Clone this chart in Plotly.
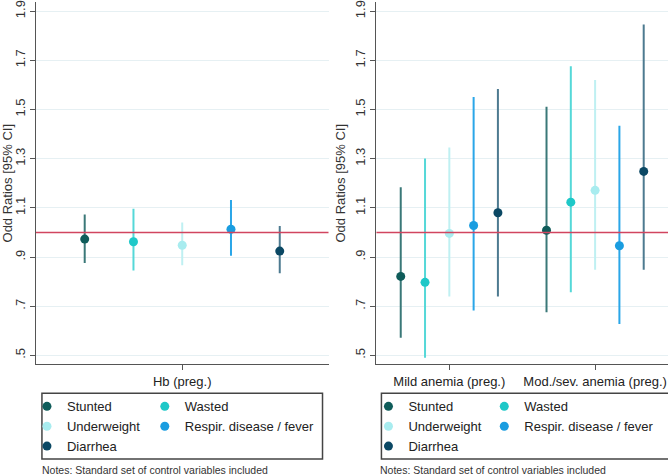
import plotly.graph_objects as go

W, H = 668, 476

series = ["Stunted", "Wasted", "Underweight", "Respir. disease / fever", "Diarrhea"]
point_colors = ["#0f5c5a", "#1ec8c8", "#a8ecef", "#1a9de0", "#0b4864"]
ci_colors = ["#3a7878", "#55d8d8", "#bff0f2", "#2aa6e8", "#4d7a90"]

left_categories = ["Hb (preg.)"]
right_categories = ["Mild anemia (preg.)", "Mod./sev. anemia (preg.)"]

# Odds ratios and 95% CI, per series (order as in `series`)
hb_or = [0.973, 0.962, 0.948, 1.013, 0.924]
hb_lo = [0.876, 0.845, 0.866, 0.905, 0.834]
hb_hi = [1.073, 1.096, 1.040, 1.132, 1.026]

mild_or = [0.821, 0.797, 0.996, 1.028, 1.080]
mild_lo = [0.572, 0.490, 0.739, 0.682, 0.739]
mild_hi = [1.184, 1.301, 1.345, 1.551, 1.583]

mod_or = [1.009, 1.123, 1.171, 0.946, 1.248]
mod_lo = [0.675, 0.757, 0.848, 0.628, 0.848]
mod_hi = [1.511, 1.676, 1.620, 1.434, 1.845]

ytick_vals = [0.5, 0.7, 0.9, 1.1, 1.3, 1.5, 1.7, 1.9]
ytick_text = [".5", ".7", ".9", "1.1", "1.3", "1.5", "1.7", "1.9"]
y_title = "Odd Ratios [95% CI]"
notes = "Notes: Standard set of control variables included"

FONT = "Arial, Liberation Sans, sans-serif"
AXIS_COLOR = "#555555"
GRID_COLOR = "#e6f0f3"
REF_COLOR = "#d1455f"

n = len(series)
offsets = [(i - (n - 1) / 2) / 6 for i in range(n)]

fig = go.Figure()

# legend assignment: column 1 -> Stunted, Underweight, Diarrhea; column 2 -> Wasted, Respir.
col_of = [0, 1, 0, 1, 0]

# left panel
for i, name in enumerate(series):
    fig.add_trace(go.Scatter(
        x=[1 + offsets[i]], y=[hb_or[i]], mode="markers", name=name,
        marker=dict(color=point_colors[i], size=9),
        error_y=dict(type="data", symmetric=False,
                     array=[hb_hi[i] - hb_or[i]], arrayminus=[hb_or[i] - hb_lo[i]],
                     color=ci_colors[i], thickness=2, width=0),
        xaxis="x", yaxis="y",
        legend="legend" if col_of[i] == 0 else "legend2",
        showlegend=True,
    ))

# right panel
for i, name in enumerate(series):
    xs = [k + 1 + offsets[i] for k in range(len(right_categories))]
    ors = [mild_or[i], mod_or[i]]
    los = [mild_lo[i], mod_lo[i]]
    his = [mild_hi[i], mod_hi[i]]
    fig.add_trace(go.Scatter(
        x=xs, y=ors, mode="markers", name=name,
        marker=dict(color=point_colors[i], size=9),
        error_y=dict(type="data", symmetric=False,
                     array=[h - o for h, o in zip(his, ors)],
                     arrayminus=[o - l for o, l in zip(ors, los)],
                     color=ci_colors[i], thickness=2, width=0),
        xaxis="x2", yaxis="y2",
        legend="legend3" if col_of[i] == 0 else "legend4",
        showlegend=True,
    ))

yrange = [0.463, 1.937]
ydomain = [1 - 364 / H, 1]

def yaxis_common(anchor):
    return dict(
        domain=ydomain, range=yrange, anchor=anchor,
        tickvals=ytick_vals, ticktext=ytick_text, tickangle=-90,
        ticks="outside", ticklen=5, tickcolor=AXIS_COLOR, tickwidth=1,
        showline=True, linecolor=AXIS_COLOR, linewidth=1,
        showgrid=True, gridcolor=GRID_COLOR, gridwidth=1, zeroline=False,
        ticklabeloverflow="allow",
        tickfont=dict(size=13, color="#333333"),
        title=dict(text=y_title, font=dict(size=13, color="#333333"), standoff=4),
    )

def xaxis_common(domain, rng, cats, anchor):
    return dict(
        domain=domain, range=rng, anchor=anchor,
        tickvals=list(range(1, len(cats) + 1)), ticktext=cats,
        ticks="outside", ticklen=5, tickcolor=AXIS_COLOR, tickwidth=1,
        showline=True, linecolor=AXIS_COLOR, linewidth=1,
        showgrid=False, zeroline=False,
        tickfont=dict(size=13, color="#222222"),
    )

def legend_at(px, py):
    return dict(x=px / W, y=1 - py / H, xanchor="left", yanchor="top",
                orientation="v", bgcolor="rgba(0,0,0,0)", borderwidth=0,
                font=dict(size=13, color="#222222", family=FONT),
                itemclick=False, itemdoubleclick=False)

fig.update_layout(
    width=W, height=H,
    margin=dict(l=0, r=0, t=0, b=0),
    paper_bgcolor="white", plot_bgcolor="white",
    font=dict(family=FONT, color="#333333"),
    xaxis=xaxis_common([35 / W, 328 / W], [0.5, 1.5], left_categories, "y"),
    yaxis=yaxis_common("x"),
    xaxis2=xaxis_common([376 / W, 1.0], [0.5, 2.5], right_categories, "y2"),
    yaxis2=yaxis_common("x2"),
    legend=legend_at(26, 391),
    legend2=legend_at(144, 391),
    legend3=legend_at(368, 391),
    legend4=legend_at(484, 391),
    showlegend=True,
)

# reference line at OR = 1
for xr, yr in [("x domain", "y"), ("x2 domain", "y2")]:
    fig.add_shape(type="line", xref=xr, yref=yr, x0=0, x1=1, y0=1, y1=1,
                  line=dict(color=REF_COLOR, width=1.5), layer="above")

# legend boxes
for x0, x1 in [(41, 322), (381, 670)]:
    fig.add_shape(type="rect", xref="paper", yref="paper",
                  x0=x0 / W, x1=x1 / W, y0=1 - 459 / H, y1=1 - 393 / H,
                  line=dict(color="#444444", width=1.5), fillcolor="rgba(0,0,0,0)")

# notes
for xn in [39, 378]:
    fig.add_annotation(text=notes, xref="paper", yref="paper",
                       x=xn / W, y=1 - 470 / H, xanchor="left", yanchor="middle",
                       showarrow=False, font=dict(size=10.5, color="#333333"))

fig.write_html(
    "out.html",
    config={"displayModeBar": False},
    post_script="document.body.style.margin='0';document.body.style.overflow='hidden';",
)
